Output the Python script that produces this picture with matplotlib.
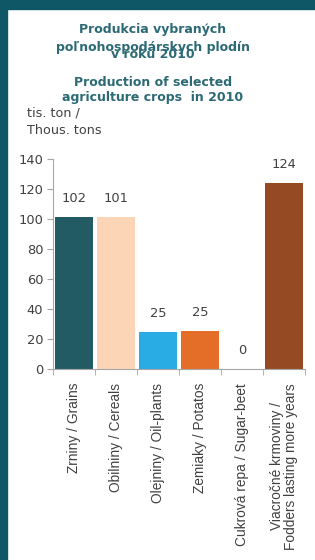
import matplotlib
matplotlib.use("Agg")
import matplotlib.pyplot as plt
from matplotlib.patches import Rectangle

# Production of selected agriculture crops in 2010 (thousand tons)
categories = ["Zrniny / Grains", "Obilniny / Cereals", "Olejniny / Oil-plants",
              "Zemiaky / Potatos", "Cukrová repa / Sugar-beet",
              "Viacročné krmoviny /\nFodders lasting more years"]
values = [101.6, 101.3, 24.6, 25.4, 0.2, 124.1]
bar_colors = ["#235b64", "#fbd5b6", "#29ace3", "#e46e28", "#cccccc", "#954a23"]
yticks = [0, 20, 40, 60, 80, 100, 120, 140]

border = "#0f5766"
title_col = "#2b6a75"
text_col = "#404040"

fig = plt.figure(figsize=(3.15, 5.6), dpi=100)
fig.patch.set_facecolor("white")

# dark frame on top and left
fig.patches.append(Rectangle((0, 1 - 9 / 560), 1, 9 / 560, transform=fig.transFigure,
                             color=border, zorder=0))
fig.patches.append(Rectangle((0, 0), 7 / 315, 1, transform=fig.transFigure,
                             color=border, zorder=0))

ax = fig.add_axes([53 / 315, 1 - 369 / 560, 252 / 315, 210 / 560])
x = list(range(len(categories)))
bars = ax.bar(x, values, width=0.9, color=bar_colors, zorder=2)

for xi, v in zip(x, values):
    ax.text(xi, v + 8, f"{v:.0f}", ha="center", va="bottom", fontsize=9.4,
            color=text_col, family="DejaVu Sans")

ax.set_xlim(-0.5, 5.5)
ax.set_ylim(0, 140)
ax.set_yticks(yticks)
ax.set_yticklabels([str(t) for t in yticks], fontsize=9.4, color=text_col)
ax.set_xticks(x)
ax.set_xticklabels(categories, rotation=90, fontsize=9.9, color=text_col,
                   family="Liberation Sans", va="top", linespacing=1.0)
ax.set_xticks([i - 0.5 for i in range(len(categories) + 1)], minor=True)
ax.tick_params(axis="x", which="major", length=0, pad=10)
ax.tick_params(axis="x", which="minor", length=4, color="#a6a6a6", direction="out")
ax.tick_params(axis="y", length=4, color="#a6a6a6", direction="out", pad=3)

for s in ["top", "right"]:
    ax.spines[s].set_visible(False)
for s in ["left", "bottom"]:
    ax.spines[s].set_color("#a6a6a6")
ax.set_facecolor("white")

# titles
cx = 153 / 315
tfs = 9.0
fig.text(cx, 1 - 29 / 560, "Produkcia vybraných", ha="center", va="center",
         fontsize=tfs, fontweight="bold", color=title_col)
fig.text(cx, 1 - 47 / 560, "poľnohospodárskych plodín", ha="center", va="center",
         fontsize=tfs, fontweight="bold", color=title_col)
fig.text(cx, 1 - 55 / 560, "v roku 2010", ha="center", va="center",
         fontsize=tfs, fontweight="bold", color=title_col)
fig.text(cx, 1 - 82 / 560, "Production of selected", ha="center", va="center",
         fontsize=tfs, fontweight="bold", color=title_col)
fig.text(cx, 1 - 97 / 560, "agriculture crops  in 2010", ha="center", va="center",
         fontsize=tfs, fontweight="bold", color=title_col)

fig.text(27 / 315, 1 - 113 / 560, "tis. ton /", ha="left", va="center",
         fontsize=9.2, color=text_col)
fig.text(27 / 315, 1 - 130 / 560, "Thous. tons", ha="left", va="center",
         fontsize=9.2, color=text_col)

fig.savefig("out.png", dpi=100, facecolor="white")
